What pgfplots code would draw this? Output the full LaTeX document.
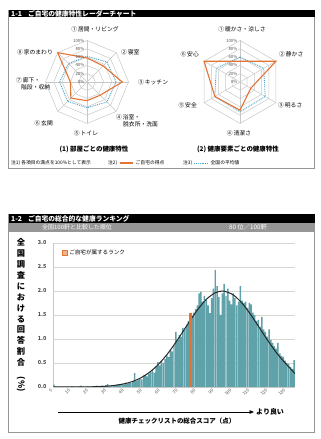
\documentclass[border=0pt]{standalone}
\usepackage{fontspec}
\setmainfont{Noto Sans CJK JP}
\usepackage{graphicx}
\usepackage{pgfplots}
\pgfplotsset{compat=1.18}
\usetikzlibrary{arrows.meta}

\definecolor{histteal}{RGB}{96,162,170}
\definecolor{homeorange}{RGB}{226,116,52}
\definecolor{avgblue}{RGB}{70,160,195}
\definecolor{gridgray}{RGB}{200,200,200}
\definecolor{gridgraytwo}{RGB}{215,215,210}
\definecolor{panelgray}{RGB}{150,150,150}
\definecolor{bandgray}{RGB}{150,150,150}
\definecolor{labgray}{RGB}{80,80,80}
\definecolor{curvec}{RGB}{40,40,40}

\newcommand{\radarfont}{\fontsize{5.8}{6.8}\selectfont}

\begin{document}
\begin{tikzpicture}[x=1bp,y=1bp]
\path[use as bounding box, fill=white] (0,0) rectangle (320,439);

% ---------------- panel 1-1 ----------------
\draw[panelgray, line width=0.7bp] (8.5,271) rectangle (314.5,429);
\fill[black] (8.5,421.5) rectangle (314.5,429);
\node[anchor=west, text=white, font=\bfseries\fontsize{6.8}{7}\selectfont, inner sep=0] at (11,425.3) {1-1\hspace{6bp}ご自宅の健康特性レーダーチャート};

% rooms (octagon)
\begin{axis}[at={(87bp,357bp)}, anchor=center, hide axis, x=0.415bp, y=0.415bp,
  xmin=-100, xmax=100, ymin=-100, ymax=100, clip=false, data cs=polar]
  \pgfplotsinvokeforeach{20,40,60,80,100}{
    \addplot[gridgray, line width=0.5bp] coordinates {(90,#1)(45,#1)(0,#1)(-45,#1)(-90,#1)(-135,#1)(180,#1)(135,#1)(90,#1)};
  }
  \pgfplotsinvokeforeach{90,45,0,-45,-90,-135,180,135}{
    \addplot[gridgray, line width=0.5bp] coordinates {(#1,0)(#1,100)};
  }
  % national average
  \addplot[avgblue, line width=0.9bp, densely dotted] coordinates {
    (90,62)(45,68)(0,70)(-45,68)(-90,62)(-135,66)(180,66)(135,63)(90,62)};
  % this home
  \addplot[homeorange, line width=1.1bp] coordinates {
    (90,58)(45,55)(0,85)(-45,45)(-90,45)(-135,55)(180,40)(135,100)(90,58)};
\end{axis}

% health elements (hexagon)
\begin{axis}[at={(240bp,357bp)}, anchor=center, hide axis, x=0.415bp, y=0.415bp,
  xmin=-100, xmax=100, ymin=-100, ymax=100, clip=false, data cs=polar]
  \pgfplotsinvokeforeach{20,40,60,80,100}{
    \addplot[gridgray, line width=0.5bp] coordinates {(90,#1)(30,#1)(-30,#1)(-90,#1)(-150,#1)(150,#1)(90,#1)};
  }
  \pgfplotsinvokeforeach{90,30,-30,-90,-150,150}{
    \addplot[gridgray, line width=0.5bp] coordinates {(#1,0)(#1,100)};
  }
  \addplot[avgblue, line width=0.9bp, densely dotted] coordinates {
    (90,60)(30,66)(-30,70)(-90,72)(-150,70)(150,66)(90,60)};
  \addplot[homeorange, line width=1.1bp] coordinates {
    (90,50)(30,100)(-30,30)(-90,68)(-150,70)(150,100)(90,50)};
\end{axis}

% radial scale labels
\foreach \v in {0,20,40,60,80,100}{
  \node[anchor=east, font=\fontsize{4.3}{4.5}\selectfont, text=labgray, inner sep=0] at (84.5,{357+0.415*\v}) {\v\%};
  \node[anchor=east, font=\fontsize{4.3}{4.5}\selectfont, text=labgray, inner sep=0] at (237.5,{357+0.415*\v}) {\v\%};
}

% octagon category labels
\begin{scope}[every node/.style={font=\radarfont, inner sep=0, text=black}]
\node at (95,410) {①\,居間・リビング};
\node[anchor=west] at (121,387) {②\,寝室};
\node[anchor=west] at (138,357) {③\,キッチン};
\node[anchor=west, align=left] at (116,318) {④\,浴室・\\\hspace{7bp}脱衣所・洗面};
\node at (86,306) {⑤\,トイレ};
\node[anchor=east] at (53,316) {⑥\,玄関};
\node[anchor=west, align=left] at (16,355) {⑦\,廊下・\\\hspace{5bp}階段・収納};
\node[anchor=east] at (53,387) {⑧\,家のまわり};
% hexagon category labels
\node at (242,410) {①\,暖かさ・涼しさ};
\node[anchor=west] at (279,385) {②\,静かさ};
\node[anchor=west] at (278,334) {③\,明るさ};
\node at (239,306) {④\,清潔さ};
\node[anchor=east] at (197,334) {⑤\,安全};
\node[anchor=east] at (199,385) {⑥\,安心};
\end{scope}

\node[font=\bfseries\fontsize{6.5}{7}\selectfont, inner sep=0] at (94,290) {(1) 部屋ごとの健康特性};
\node[font=\bfseries\fontsize{6.5}{7}\selectfont, inner sep=0] at (238,290) {(2) 健康要素ごとの健康特性};

% notes
\begin{scope}[every node/.style={font=\fontsize{4.8}{5}\selectfont, inner sep=0, anchor=west}]
\node at (11,276) {注1) 各項目の満点を100\%として表示};
\node at (108,276) {注2)};
\draw[homeorange, line width=1.1bp] (120,276) -- (133,276);
\node at (135.5,276) {ご自宅の得点};
\node at (183,276) {注3)};
\draw[avgblue, line width=0.9bp, densely dotted] (194,276) -- (208,276);
\node at (210.5,276) {全国の平均値};
\end{scope}

% ---------------- panel 1-2 ----------------
\draw[panelgray, line width=0.7bp] (8.5,7) rectangle (314.5,225);
\fill[black] (8.5,216) rectangle (314.5,225);
\fill[bandgray] (8.5,207) rectangle (314.5,216);
\node[anchor=west, text=white, font=\bfseries\fontsize{6.8}{7}\selectfont, inner sep=0] at (11,220.5) {1-2\hspace{6bp}ご自宅の総合的な健康ランキング};
\node[anchor=west, text=white, font=\fontsize{6}{6.5}\selectfont, inner sep=0] at (42,211.5) {全国100軒と比較した順位};
\node[anchor=west, text=white, font=\fontsize{6.3}{6.5}\selectfont, inner sep=0] at (229,211.5) {80 位／100軒};

\begin{axis}[at={(53bp,52bp)}, anchor=south west, scale only axis,
  width=242bp, height=144bp,
  xmin=-0.5, xmax=134.5, ymin=0, ymax=3,
  axis x line*=bottom, axis y line*=left,
  axis line style={draw=gridgray, line width=0.6bp},
  ytick={0,0.5,1,1.5,2,2.5,3}, xtick={0,10,...,130},
  major tick length=0pt,
  ymajorgrids, grid style={gridgraytwo, line width=0.5bp},
  /pgf/number format/assume math mode=true,
  yticklabel style={font=\bfseries\fontsize{5.5}{6}\selectfont, text=labgray, xshift=-3bp,
    /pgf/number format/.cd, fixed, fixed zerofill, precision=1},
  xticklabel style={font=\fontsize{4.5}{5}\selectfont, text=labgray, rotate=45, anchor=east},
  legend style={at={(0.035,0.93)}, anchor=west, draw=none, fill=none,
    font=\fontsize{5.6}{6}\selectfont, inner sep=0pt},
  legend image code/.code={\draw[draw=homeorange, fill=homeorange!55] (0bp,-2.6bp) rectangle (5.2bp,2.6bp);},
]
% share of national survey answers per total score
\addplot[ybar, bar width=0.82, bar shift=0pt, fill=histteal, draw=none, forget plot] coordinates {
(0,0.05)(1,0.01)(2,0.00)(3,0.01)(4,0.00)(5,0.01)(6,0.00)(7,0.01)(8,0.01)(9,0.00)
(10,0.02)(11,0.01)(12,0.00)(13,0.01)(14,0.02)(15,0.03)(16,0.01)(17,0.00)(18,0.01)(19,0.02)
(20,0.01)(21,0.02)(22,0.01)(23,0.02)(24,0.03)(25,0.01)(26,0.02)(27,0.03)(28,0.02)(29,0.04)
(30,0.06)(31,0.02)(32,0.03)(33,0.04)(34,0.03)(35,0.05)(36,0.06)(37,0.04)(38,0.07)(39,0.05)
(40,0.09)(41,0.07)(42,0.10)(43,0.08)(44,0.12)(45,0.29)(46,0.13)(47,0.15)(48,0.18)(49,0.16)
(50,0.24)(51,0.25)(52,0.22)(53,0.28)(54,0.32)(55,0.36)(56,0.30)(57,0.42)(58,0.52)(59,0.45)
(60,0.55)(61,0.50)(62,0.58)(63,0.66)(64,0.62)(65,0.78)(66,0.74)(67,0.87)(68,1.15)(69,0.98)
(70,1.08)(71,1.05)(72,1.23)(73,1.20)(74,1.30)(75,1.38)(76,1.52)(77,1.45)(78,1.55)(79,1.62)
(80,1.70)(81,1.95)(82,1.98)(83,1.78)(84,1.90)(85,1.82)(86,1.70)(87,1.54)(88,1.85)(89,2.05)
(90,2.44)(91,2.10)(92,1.88)(93,1.50)(94,1.95)(95,2.15)(96,1.90)(97,2.05)(98,1.80)(99,1.72)
(100,1.95)(101,1.85)(102,1.70)(103,1.78)(104,2.10)(105,1.80)(106,1.75)(107,1.78)(108,1.65)(109,1.75)
(110,1.72)(111,1.55)(112,1.50)(113,1.38)(114,1.40)(115,1.25)(116,1.46)(117,1.20)(118,1.15)(119,1.05)
(120,1.20)(121,0.98)(122,0.92)(123,0.85)(124,0.80)(125,0.92)(126,0.70)(127,0.65)(128,0.63)(129,0.55)
(130,0.50)(131,0.48)(132,0.42)(133,0.38)(134,0.56)};
% fitted distribution curve
\addplot[curvec, line width=1bp, smooth, forget plot] coordinates {
(0,0)(10,0.001)(20,0.004)(25,0.009)(30,0.019)(35,0.039)(40,0.073)(45,0.131)
(50,0.223)(55,0.357)(60,0.539)(65,0.771)(70,1.041)(75,1.328)(80,1.602)(85,1.825)
(90,1.964)(94,2.0)(95,1.998)(100,1.920)(105,1.744)(110,1.496)(115,1.213)(120,0.930)
(125,0.673)(130,0.460)(134.5,0.28)};
% rank of this home
\addplot[ybar, bar width=1.6, bar shift=0pt, fill=homeorange, draw=none] coordinates {(76,1.55)};
\addlegendentry{ご自宅が属するランク}
\end{axis}

% vertical axis title
\node[anchor=north, font=\bfseries\fontsize{8.3}{11}\selectfont, align=center, inner sep=0] at (21,201)
  {全\\国\\調\\査\\に\\お\\け\\る\\回\\答\\割\\合\\\rotatebox{-90}{(\%)}};

\draw[-{Triangle[length=4.5bp,width=3.6bp]}, line width=0.8bp] (58,27) -- (254,27);
\node[anchor=west, font=\bfseries\fontsize{7}{7}\selectfont, inner sep=0] at (256,27) {より良い};
\node[font=\bfseries\fontsize{6.5}{7}\selectfont, inner sep=0] at (177,17.5) {健康チェックリストの総合スコア（点）};
\end{tikzpicture}
\end{document}
